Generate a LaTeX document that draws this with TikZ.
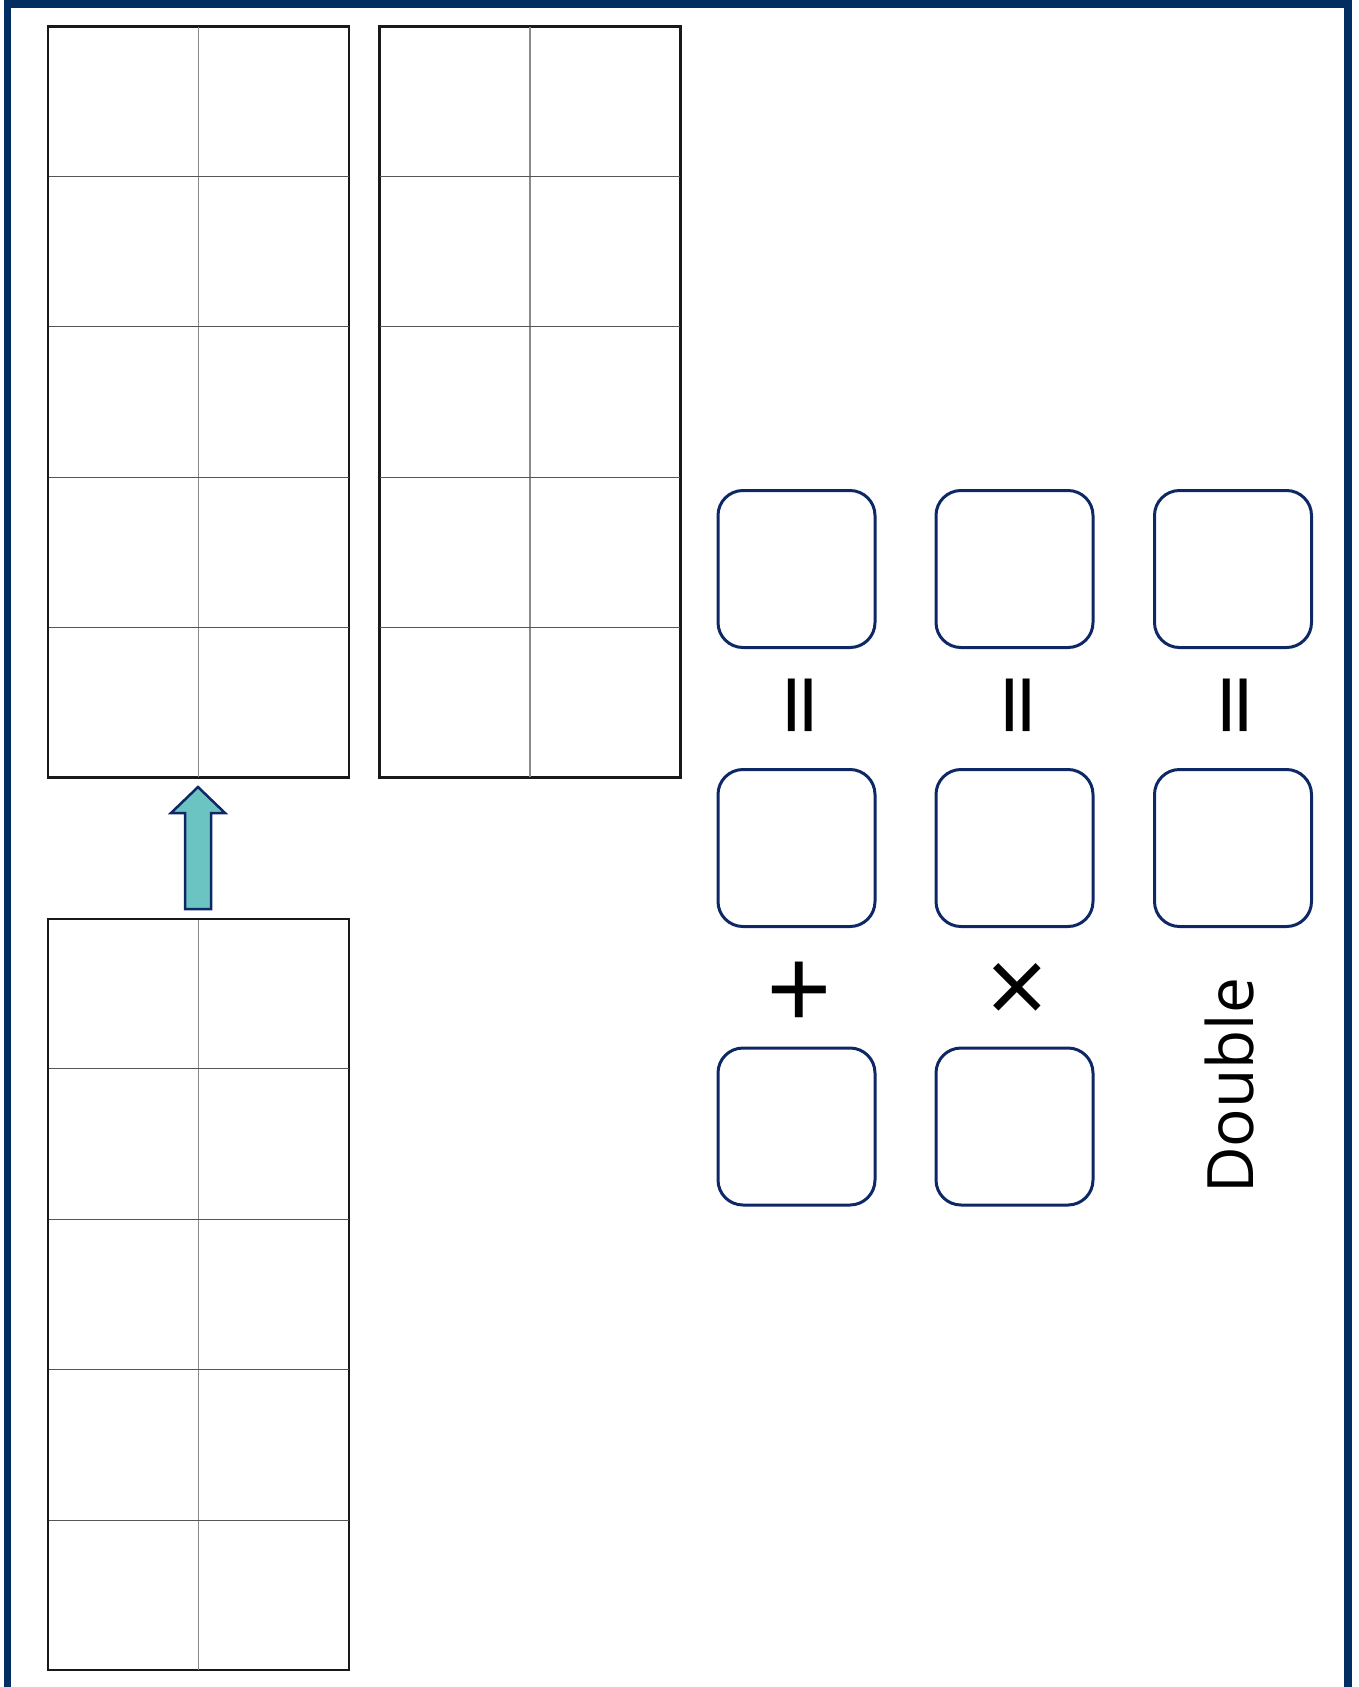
\documentclass[tikz,border=0pt]{standalone}
\usepackage{fontspec}
\setmainfont{Open Sans}
\newfontfamily\symfont{DejaVu Sans}
\usetikzlibrary{calc}
\definecolor{navy}{HTML}{002D62}
\definecolor{boxnavy}{HTML}{0E2866}
\definecolor{teal}{HTML}{6BC4C1}
\definecolor{gridh}{HTML}{555555}
\definecolor{gridv}{HTML}{8A8A8A}
\begin{document}
\begin{tikzpicture}[x=1pt,y=-1pt,
  answerbox/.style={draw=boxnavy,line width=3pt,rounded corners=25pt,minimum width=157pt,minimum height=157pt,inner sep=0pt},
  gridframe/.style={draw=black!90,line width=1.8pt,minimum width=300pt,minimum height=750pt,inner sep=0pt},
  hline/.style={draw=gridh,line width=1pt},
  vline/.style={draw=gridv,line width=1.3pt},
  eqsymb/.style={font=\symfont\fontsize{84}{90}\selectfont,inner sep=0pt},
  symb/.style={font=\fontsize{115}{120}\selectfont,inner sep=0pt},
  lbl/.style={font=\fontsize{64}{70}\selectfont,inner sep=0pt}]
\useasboundingbox (0,0) rectangle (1358,1687);
% frame
\draw[navy,line width=7.5pt] (7.5,1700) -- (7.5,4) -- (1348,4) -- (1348,1700);
% grids
\foreach \n/\cx/\cy in {ga/198.5/402, gb/530/402, gc/198.5/1294.5}{
  \node[gridframe] (\n) at (\cx,\cy) {};
  \draw[vline] (\n.north) -- (\n.south);
  \foreach \k in {1,2,3,4}{
    \draw[hline] ($(\n.north west)!\k/5!(\n.south west)$) -- ($(\n.north east)!\k/5!(\n.south east)$);
  }
  \draw[draw=black!90,line width=1.8pt] (\n.north west) rectangle (\n.south east);
}
% arrow
\draw[draw=boxnavy,fill=teal,line width=2.5pt,line join=miter]
  (198,787) -- (225,813) -- (211,813) -- (211,909) -- (185,909) -- (185,813) -- (171,813) -- cycle;
% boxes
\node[answerbox] (a1) at (796.5,569) {};
\node[answerbox] (a2) at (796.5,848) {};
\node[answerbox] (a3) at (796.5,1126.5) {};
\node[answerbox] (b1) at (1014.5,569) {};
\node[answerbox] (b2) at (1014.5,848) {};
\node[answerbox] (b3) at (1014.5,1126.5) {};
\node[answerbox] (c1) at (1233,569) {};
\node[answerbox] (c2) at (1233,848) {};
% symbols
\node[eqsymb,rotate=90] (e1) at (807,705) {=};
\node[eqsymb,rotate=90] (e2) at (1025,705) {=};
\node[eqsymb,rotate=90] (e3) at (1242,705) {=};
\node[symb] (p) at (799,996) {+};
\node[symb,font=\fontsize{108}{110}\selectfont] (t) at (1017,994) {×};
\node[lbl,rotate=90,anchor=base] (d) at (1253,1086) {Double};
\end{tikzpicture}
\end{document}
